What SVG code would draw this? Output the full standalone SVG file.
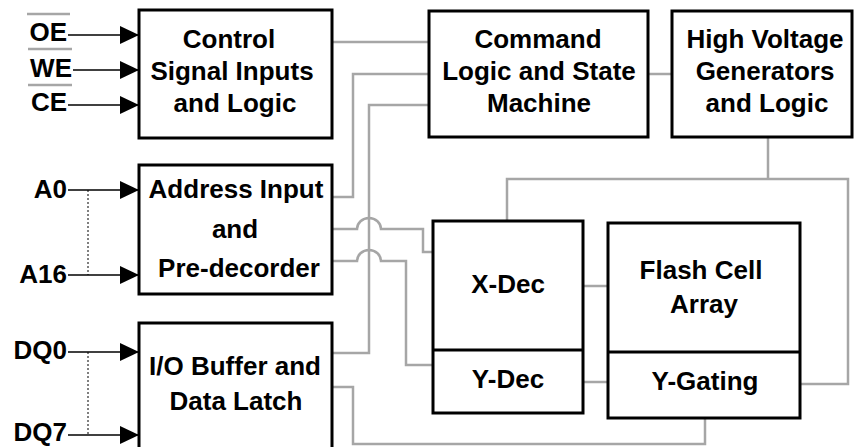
<svg xmlns="http://www.w3.org/2000/svg" width="856" height="447" viewBox="0 0 856 447">
  <style>
    .box { fill: #ffffff; stroke: #000000; stroke-width: 3; }
    .bus { fill: none; stroke: #a6a6a6; stroke-width: 2.5; }
    .sig { fill: none; stroke: #000000; stroke-width: 1.5; }
    .dot { fill: none; stroke: #000000; stroke-width: 1; stroke-dasharray: 2 2; }
    .bar { stroke: #a6a6a6; stroke-width: 2.5; }
    text { font-family: "Liberation Sans", Arial, sans-serif; font-weight: bold; font-size: 26px; fill: #000000; }
    .c { text-anchor: middle; }
    .r { text-anchor: end; }
  </style>
  <defs>
    <marker id="arrow" markerUnits="userSpaceOnUse" markerWidth="19" markerHeight="18" refX="19" refY="9" orient="auto">
      <polygon points="0,0 19,9 0,18" fill="#000000"/>
    </marker>
  </defs>

  <!-- internal buses -->
  <g id="connectors">
    <path class="bus" d="M332,42 H429"/>
    <path class="bus" d="M332,197 H353 V74 H429"/>
    <path class="bus" d="M332,353 H369 V105 H429"/>
    <path class="bus" d="M332,229 H357 A12,11 0 0 1 381,229 H423 V252 H433"/>
    <path class="bus" d="M332,261 H357 A12,11 0 0 1 381,261 H406 V365 H433"/>
    <path class="bus" d="M332,387 H353 V444 H705 V418"/>
    <path class="bus" d="M648,74 H672"/>
    <path class="bus" d="M583,286 H608"/>
    <path class="bus" d="M583,382 H608"/>
    <path class="bus" d="M800,384 H848 V179 H507 V221"/>
    <path class="bus" d="M768,137 V179"/>

    <!-- external pins -->
    <path class="sig" d="M68,35 H139" marker-end="url(#arrow)"/>
    <path class="sig" d="M73,70 H139" marker-end="url(#arrow)"/>
    <path class="sig" d="M68,105 H139" marker-end="url(#arrow)"/>
    <path class="sig" d="M68,190 H139" marker-end="url(#arrow)"/>
    <path class="sig" d="M68,275 H139" marker-end="url(#arrow)"/>
    <path class="sig" d="M68,352 H139" marker-end="url(#arrow)"/>
    <path class="sig" d="M68,435 H139" marker-end="url(#arrow)"/>
    <path class="dot" d="M88,190 V275"/>
    <path class="dot" d="M88,352 V435"/>
  </g>

  <!-- pin labels -->
  <g id="pins">
    <line class="bar" x1="27" y1="14" x2="70" y2="14"/>
    <line class="bar" x1="28" y1="49" x2="72" y2="49"/>
    <line class="bar" x1="28" y1="85" x2="72" y2="85"/>
    <text class="r" x="67" y="41">OE</text>
    <text class="r" x="72" y="77">WE</text>
    <text class="r" x="67" y="111">CE</text>
    <text class="r" x="67" y="198">A0</text>
    <text class="r" x="67" y="283">A16</text>
    <text class="r" x="67" y="359">DQ0</text>
    <text class="r" x="67" y="441">DQ7</text>
  </g>

  <g id="control">
    <rect class="box" x="139" y="10" width="193" height="128"/>
    <text class="c" x="229" y="48">Control</text>
    <text class="c" x="232" y="80">Signal Inputs</text>
    <text class="c" x="235" y="112">and Logic</text>
  </g>

  <g id="command">
    <rect class="box" x="429" y="11" width="219" height="126"/>
    <text class="c" x="538" y="48">Command</text>
    <text class="c" x="539" y="80">Logic and State</text>
    <text class="c" x="539" y="112">Machine</text>
  </g>

  <g id="high-voltage">
    <rect class="box" x="672" y="11" width="180" height="126"/>
    <text class="c" x="765" y="48">High Voltage</text>
    <text class="c" x="765" y="80">Generators</text>
    <text class="c" x="767" y="112">and Logic</text>
  </g>

  <g id="address">
    <rect class="box" x="139" y="165" width="193" height="129"/>
    <text class="c" x="236" y="198">Address Input</text>
    <text class="c" x="235" y="238">and</text>
    <text class="c" x="239" y="277">Pre-decorder</text>
  </g>

  <g id="io-buffer">
    <rect class="box" x="139" y="323" width="193" height="140"/>
    <text class="c" x="235" y="375">I/O Buffer and</text>
    <text class="c" x="236" y="410">Data Latch</text>
  </g>

  <g id="decoders">
    <rect class="box" x="433" y="221" width="150" height="192"/>
    <line class="box" x1="433" y1="350" x2="583" y2="350"/>
    <text class="c" x="508" y="293">X-Dec</text>
    <text class="c" x="508" y="388">Y-Dec</text>
  </g>

  <g id="flash-array">
    <rect class="box" x="608" y="223" width="192" height="195"/>
    <line class="box" x1="608" y1="352" x2="800" y2="352"/>
    <text class="c" x="701" y="279">Flash Cell</text>
    <text class="c" x="704" y="313">Array</text>
    <text class="c" x="705" y="390">Y-Gating</text>
  </g>
</svg>
